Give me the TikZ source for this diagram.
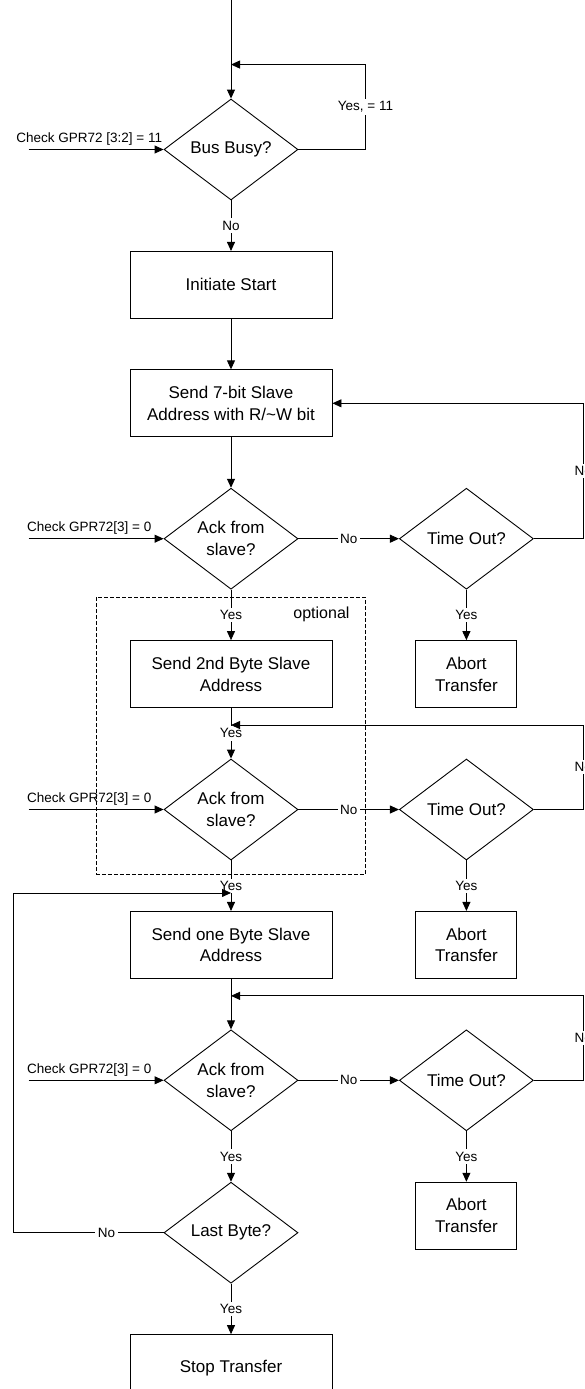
\documentclass[tikz,border=0pt]{standalone}
\usepackage{fontspec}
\setmainfont{Liberation Sans}
\usetikzlibrary{shapes.geometric, arrows.meta, positioning, calc}

\tikzset{
  box/.style = {draw, rectangle, minimum width=202pt, minimum height=67pt, inner sep=0pt, align=center, font=\fontsize{17}{21.7}\selectfont},
  abortbox/.style = {box, minimum width=101pt},
  decision/.style = {draw, diamond, aspect=1.34, minimum width=134pt, minimum height=101pt, inner sep=0pt, align=center, font=\fontsize{17}{21.7}\selectfont},
  lbl/.style = {fill=white, inner sep=2.5pt, font=\fontsize{13.5}{16}\selectfont},
  cond/.style = {above, inner sep=4pt, font=\fontsize{13.5}{16}\selectfont},
  flow/.style = {-{Triangle[length=9pt, width=8pt]}},
}

\begin{document}
\begin{tikzpicture}[x=1pt, y=1pt, line width=0.9pt, node distance=50.5pt]
\clip (0,0) rectangle (584,-1389);

\node [decision] (bus) at (231,-149.5) {Bus Busy?};
\node [box, below=of bus] (init) {Initiate Start};
\node [box, below=of init] (addr7) {Send 7-bit Slave\\Address with R/\textasciitilde W bit};
\node [decision, below=of addr7] (ack1) {Ack from\\slave?};
\node [box, below=of ack1] (addr2) {Send 2nd Byte Slave\\Address};
\node [decision, below=of addr2] (ack2) {Ack from\\slave?};
\node [box, below=of ack2] (addr1) {Send one Byte Slave\\Address};
\node [decision, below=of addr1] (ack3) {Ack from\\slave?};
\node [decision, below=of ack3] (last) {Last Byte?};
\node [box, below=of last] (stop) {Stop Transfer};

\node [decision, right=100.5pt of ack1] (tout1) {Time Out?};
\node [decision, right=100.5pt of ack2] (tout2) {Time Out?};
\node [decision, right=100.5pt of ack3] (tout3) {Time Out?};
\node [abortbox, below=of tout1] (abort1) {Abort\\Transfer};
\node [abortbox, below=of tout2] (abort2) {Abort\\Transfer};
\node [abortbox, below=of tout3] (abort3) {Abort\\Transfer};

\coordinate (start) at (bus.north |- 0,0);
\coordinate (j0) at ($(bus.north)+(0,34)$);
\coordinate (r0) at ($(bus.east)+(67,0)$);
\coordinate (j2) at ($(addr2.south)+(0,-17)$);
\coordinate (j3) at ($(addr1.south)+(0,-17)$);
\coordinate (j4) at ($(addr1.north)+(0,18)$);
\coordinate (l4) at ($(last.west)+(-150,0)$);
\coordinate (r1) at ($(tout1.east)+(49.5,0)$);
\coordinate (r2) at ($(tout2.east)+(49.5,0)$);
\coordinate (r3) at ($(tout3.east)+(49.5,0)$);
\coordinate (c0) at ($(bus.west)+(-135,0)$);
\coordinate (c1) at ($(ack1.west)+(-135,0)$);
\coordinate (c2) at ($(ack2.west)+(-135,0)$);
\coordinate (c3) at ($(ack3.west)+(-135,0)$);

\draw [flow] (start) -- (bus.north);
\draw [flow] (bus.east) -- (r0) -- node [lbl] {Yes, = 11} (r0 |- j0) -- (j0);
\draw [flow] (c0) -- node [cond, pos=0.45] {Check GPR72 [3:2] = 11} (bus.west);
\draw [flow] (bus.south) -- node [lbl] {No} (init.north);
\draw [flow] (init) -- (addr7);
\draw [flow] (addr7) -- (ack1);

\draw [flow] (c1) -- node [cond, pos=0.45] {Check GPR72[3] = 0} (ack1.west);
\draw [flow] (ack1) -- node [lbl] {No} (tout1);
\draw [flow] (tout1.east) -- (r1) -- node [lbl] {No} (r1 |- addr7.east) -- (addr7.east);
\draw [flow] (tout1.south) -- node [lbl] {Yes} (abort1.north);
\draw [flow] (ack1.south) -- node [lbl] {Yes} (addr2.north);

\draw [flow] (addr2.south) -- node [lbl] {Yes} (ack2.north);
\draw [flow] (c2) -- node [cond, pos=0.45] {Check GPR72[3] = 0} (ack2.west);
\draw [flow] (ack2) -- node [lbl] {No} (tout2);
\draw [flow] (tout2.east) -- (r2) -- node [lbl] {No} (r2 |- j2) -- (j2);
\draw [flow] (tout2.south) -- node [lbl] {Yes} (abort2.north);
\draw [flow] (ack2.south) -- node [lbl] {Yes} (addr1.north);

\draw [flow] (addr1) -- (ack3);
\draw [flow] (tout3.east) -- (r3) -- node [lbl] {No} (r3 |- j3) -- (j3);
\draw [flow] (c3) -- node [cond, pos=0.45] {Check GPR72[3] = 0} (ack3.west);
\draw [flow] (ack3) -- node [lbl] {No} (tout3);
\draw [flow] (tout3.south) -- node [lbl] {Yes} (abort3.north);
\draw [flow] (ack3.south) -- node [lbl] {Yes} (last.north);

\draw [flow] (last.west) -- node [lbl, pos=0.38] {No} (l4) -- (l4 |- j4) -- (j4);
\draw [flow] (last.south) -- node [lbl] {Yes} (stop.north);

\draw [dashed, dash pattern=on 4pt off 2pt, line width=0.8pt] ($(addr2.west |- ack1.south)+(-33,-7.5)$) rectangle ($(addr2.east |- ack2.south)+(33,-13.5)$);
\node [font=\fontsize{16}{19}\selectfont] (optional) at ($(addr2.north east)+(-11,26)$) {optional};

\end{tikzpicture}
\end{document}
